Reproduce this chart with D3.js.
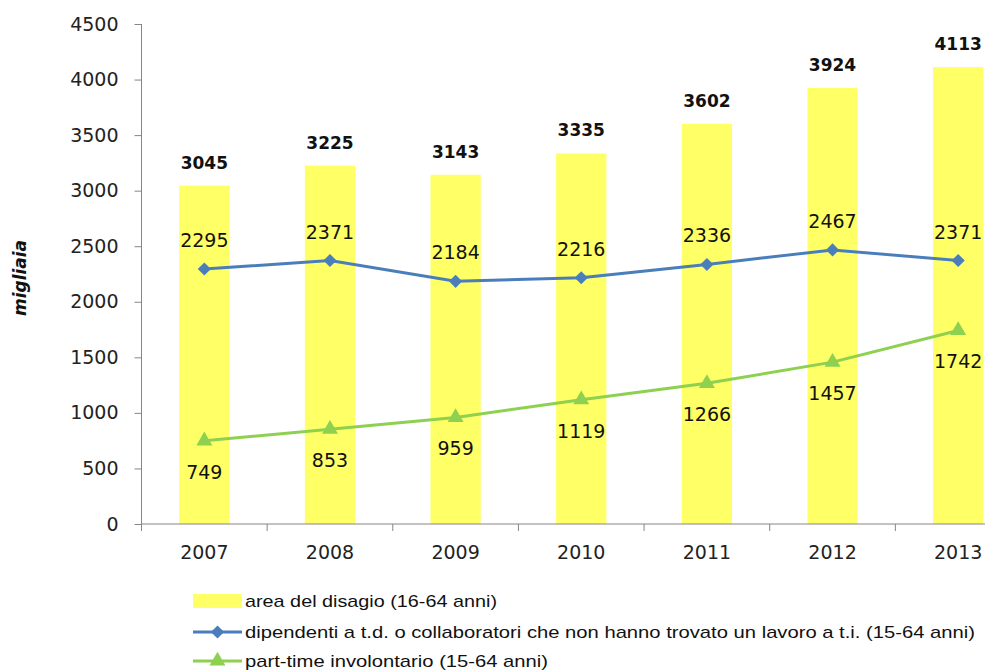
<!DOCTYPE html>
<html><head><meta charset="utf-8">
<script src="https://cdn.jsdelivr.net/npm/d3@7"></script>
<style>body{margin:0;background:#fff}svg{display:block}</style>
</head><body>
<script>
const years = ["2007","2008","2009","2010","2011","2012","2013"];
const areaDisagio = [3045,3225,3143,3335,3602,3924,4113];
const dipendentiTD = [2295,2371,2184,2216,2336,2467,2371];
const partTime = [749,853,959,1119,1266,1457,1742];
const yTicks = [0,500,1000,1500,2000,2500,3000,3500,4000,4500];
const seriesNames = ["area del disagio (16-64 anni)",
  "dipendenti a t.d. o collaboratori che non hanno trovato un lavoro a t.i. (15-64 anni)",
  "part-time involontario (15-64 anni)"];

const W=985,H=670;
const svg=d3.select("body").append("svg").attr("width",W).attr("height",H);
const x=d3.scaleBand().domain(years).range([141.5,1021]).padding(0);
const y=d3.scaleLinear().domain([0,4500]).range([524,24]);
const font="DejaVu Sans, Verdana, sans-serif";
const axisCol="#868686";
const yellow="#FFFF66", blue="#4A7EBB", green="#8ED050";

// bars
const bw=x.bandwidth()*0.4;
svg.append("g").selectAll("rect").data(areaDisagio).join("rect")
  .attr("x",(d,i)=>x(years[i])+x.bandwidth()/2-bw/2)
  .attr("y",d=>y(d)).attr("width",bw).attr("height",d=>y(0)-y(d))
  .attr("fill",yellow);

// axes
const ya=svg.append("g").attr("transform","translate(141.5,0)")
  .call(d3.axisLeft(y).tickValues(yTicks).tickSize(7).tickPadding(16).tickFormat(d3.format("d")));
ya.select(".domain").attr("stroke",axisCol).attr("d","M0,24V524");
ya.selectAll(".tick line").attr("stroke",axisCol);
ya.selectAll("text").attr("font-family",font).attr("font-size",19).attr("fill","#222");

const xa=svg.append("g").attr("transform","translate(0,524)")
  .call(d3.axisBottom(x).tickSize(0).tickPadding(22));
xa.select(".domain").attr("stroke",axisCol).attr("d","M141.5,0H1021");
xa.selectAll("text").attr("font-family",font).attr("font-size",19).attr("fill","#222");
xa.append("g").selectAll("line").data(years.concat(["end"])).join("line")
  .attr("x1",(d,i)=>x.range()[0]+i*x.step()).attr("x2",(d,i)=>x.range()[0]+i*x.step())
  .attr("y1",0).attr("y2",7).attr("stroke",axisCol);

// y title
svg.append("text").attr("transform","translate(26,278) rotate(-90)")
  .attr("text-anchor","middle").attr("font-family",font).attr("font-size",17)
  .attr("font-weight","bold").attr("font-style","italic").attr("fill","#111").text("migliaia");

const cx=i=>x(years[i])+x.bandwidth()/2;
// lines
const line=d3.line().x((d,i)=>cx(i)).y(d=>y(d));
svg.append("path").datum(dipendentiTD).attr("d",line).attr("fill","none").attr("stroke",blue).attr("stroke-width",3);
svg.append("path").datum(partTime).attr("d",line).attr("fill","none").attr("stroke",green).attr("stroke-width",3);

const diamond=d3.symbol().type(d3.symbolDiamond2).size(110);
const tri=d3.symbol().type(d3.symbolTriangle).size(110);
svg.append("g").selectAll("path").data(dipendentiTD).join("path")
  .attr("transform",(d,i)=>`translate(${cx(i)},${y(d)})`).attr("d",diamond).attr("fill",blue);
svg.append("g").selectAll("path").data(partTime).join("path")
  .attr("transform",(d,i)=>`translate(${cx(i)},${y(d)})`).attr("d",tri).attr("fill",green);

// labels
svg.append("g").selectAll("text").data(areaDisagio).join("text")
  .attr("x",(d,i)=>cx(i)).attr("y",d=>y(d)-17).attr("text-anchor","middle")
  .attr("font-family",font).attr("font-size",17).attr("font-weight","bold").attr("fill","#111").text(d=>d);
svg.append("g").selectAll("text").data(dipendentiTD).join("text")
  .attr("x",(d,i)=>cx(i)).attr("y",d=>y(d)-22).attr("text-anchor","middle")
  .attr("font-family",font).attr("font-size",19).attr("fill","#111").text(d=>d);
svg.append("g").selectAll("text").data(partTime).join("text")
  .attr("x",(d,i)=>cx(i)).attr("y",d=>y(d)+38).attr("text-anchor","middle")
  .attr("font-family",font).attr("font-size",19).attr("fill","#111").text(d=>d);

// legend
const lg=svg.append("g");
const rowY=[601,632,661];
const textW=[252,730,303];
lg.append("rect").attr("x",193).attr("y",rowY[0]-7).attr("width",49).attr("height",14).attr("fill",yellow);
lg.append("line").attr("x1",193).attr("x2",242).attr("y1",rowY[1]).attr("y2",rowY[1]).attr("stroke",blue).attr("stroke-width",3);
lg.append("path").attr("transform",`translate(217.5,${rowY[1]})`).attr("d",diamond).attr("fill",blue);
lg.append("line").attr("x1",193).attr("x2",242).attr("y1",rowY[2]).attr("y2",rowY[2]).attr("stroke",green).attr("stroke-width",3);
lg.append("path").attr("transform",`translate(217.5,${rowY[2]})`).attr("d",tri).attr("fill",green);
lg.selectAll("text").data(seriesNames).join("text")
  .attr("x",245).attr("y",(d,i)=>rowY[i]+6)
  .attr("font-family","Liberation Sans Narrow, Arial Narrow, sans-serif").attr("font-size",17)
  .attr("textLength",(d,i)=>textW[i]).attr("lengthAdjust","spacingAndGlyphs")
  .attr("fill","#111").text(d=>d);
</script>
</body></html>
